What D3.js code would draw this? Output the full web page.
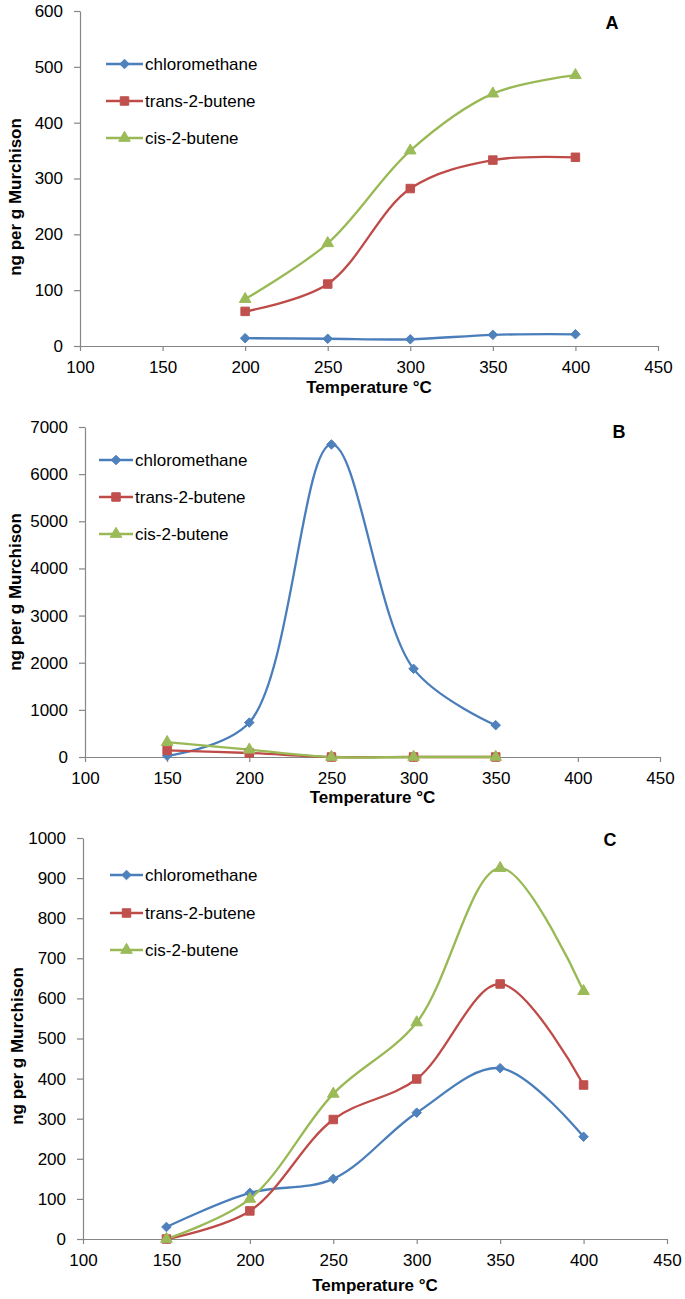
<!DOCTYPE html>
<html>
<head>
<meta charset="utf-8">
<script src="https://cdn.jsdelivr.net/npm/d3@7/dist/d3.min.js"></script>
<style>
  html, body { margin: 0; padding: 0; background: #fff; }
  svg { display: block; }
  text { font-family: "Liberation Sans", Arial, sans-serif; fill: #000; }
</style>
</head>
<body>
<svg id="chart" width="685" height="1299"></svg>
<script>
// ---------------- DATA ----------------
const seriesNames = ["chloromethane", "trans-2-butene", "cis-2-butene"];
const xTickValues = [100, 150, 200, 250, 300, 350, 400, 450];

// Panel A
const tempsA = [200, 250, 300, 350, 400];
const chloroA = [14, 13, 12, 20, 21];
const transA  = [62, 111, 282, 333, 338];
const cisA    = [84, 184, 350, 452, 485];
const yTicksA = [0, 100, 200, 300, 400, 500, 600];

// Panel B
const tempsB = [150, 200, 250, 300, 350];
const chloroB = [25, 730, 6630, 1870, 675];
const transB  = [140, 85, 0, 0, 0];
const cisB    = [315, 155, 0, 0, 0];
const yTicksB = [0, 1000, 2000, 3000, 4000, 5000, 6000, 7000];

// Panel C
const tempsC = [150, 200, 250, 300, 350, 400];
const chloroC = [30, 115, 150, 315, 426, 255];
const transC  = [0, 70, 298, 399, 636, 384];
const cisC    = [0, 100, 362, 540, 925, 618];
const yTicksC = [0, 100, 200, 300, 400, 500, 600, 700, 800, 900, 1000];

const panelLabels = ["A", "B", "C"];
const xTitle = "Temperature °C";
const yTitle = "ng per g Murchison";

// ---------------- STYLE ----------------
const lineColors   = ["#4A7EBB", "#BE4B48", "#98B954"];
const markerColors = ["#4F81BD", "#C0504D", "#9BBB59"];
const markerTypes  = [d3.symbolDiamond2, d3.symbolSquare, d3.symbolTriangle];
const markerSizes  = [58, 72, 58];
const axisColor = "#868686";

const panels = [
  { temps: tempsA, series: [chloroA, transA, cisA], yTicks: yTicksA, yMax: 600,
    x0: 80, x1: 658, yTop: 11, yBot: 346,
    legX0: 106, legX1: 143, legText: 145, legY: [64, 101, 138],
    label: panelLabels[0], labelX: 612, labelY: 23,
    yTitleX: 21, yTitleY: 197, xTitleDy: 47 },
  { temps: tempsB, series: [chloroB, transB, cisB], yTicks: yTicksB, yMax: 7000,
    x0: 85, x1: 660, yTop: 427, yBot: 757,
    legX0: 99, legX1: 133, legText: 135, legY: [460, 497, 534],
    label: panelLabels[1], labelX: 619, labelY: 432,
    yTitleX: 21, yTitleY: 592, xTitleDy: 46 },
  { temps: tempsC, series: [chloroC, transC, cisC], yTicks: yTicksC, yMax: 1000,
    x0: 83, x1: 667, yTop: 838, yBot: 1239,
    legX0: 110, legX1: 143, legText: 145, legY: [875, 913, 950],
    label: panelLabels[2], labelX: 610, labelY: 840,
    yTitleX: 23, yTitleY: 1046, xTitleDy: 52 }
];

const svg = d3.select("#chart");

panels.forEach(p => {
  const x = d3.scaleLinear().domain([100, 450]).range([p.x0, p.x1]);
  const y = d3.scaleLinear().domain([0, p.yMax]).range([p.yBot, p.yTop]);
  const g = svg.append("g");

  // X axis
  const gx = g.append("g")
    .attr("transform", `translate(0,${p.yBot})`)
    .call(d3.axisBottom(x).tickValues(xTickValues).tickFormat(d3.format("d"))
      .tickSize(5).tickPadding(10).tickSizeOuter(0));
  // Y axis
  const gy = g.append("g")
    .attr("transform", `translate(${p.x0},0)`)
    .call(d3.axisLeft(y).tickValues(p.yTicks).tickFormat(d3.format("d"))
      .tickSize(6).tickPadding(11).tickSizeOuter(0));
  [gx, gy].forEach(a => {
    a.select(".domain").attr("stroke", axisColor).attr("stroke-width", 1.2);
    a.selectAll(".tick line").attr("stroke", axisColor).attr("stroke-width", 1.2);
    a.selectAll(".tick text").attr("fill", "#000")
      .style("font-family", '"Liberation Sans", Arial, sans-serif')
      .style("font-size", "17px");
  });

  // Lines (smoothed)
  const line = d3.line()
    .x((d, i) => x(p.temps[i]))
    .y(d => y(d))
    .curve(d3.curveCatmullRom.alpha(0.5));
  p.series.forEach((vals, si) => {
    g.append("path")
      .datum(vals)
      .attr("d", line)
      .attr("fill", "none")
      .attr("stroke", lineColors[si])
      .attr("stroke-width", 2.3)
      .attr("stroke-linejoin", "round");
  });
  // Markers
  p.series.forEach((vals, si) => {
    const sym = d3.symbol().type(markerTypes[si]).size(markerSizes[si]);
    g.selectAll(null)
      .data(vals)
      .enter()
      .append("path")
      .attr("d", sym)
      .attr("transform", (d, i) => `translate(${x(p.temps[i])},${y(d)})`)
      .attr("fill", markerColors[si])
      .attr("stroke", markerColors[si])
      .attr("stroke-width", 1);
  });

  // Legend
  seriesNames.forEach((name, si) => {
    const ly = p.legY[si];
    g.append("line")
      .attr("x1", p.legX0).attr("x2", p.legX1)
      .attr("y1", ly).attr("y2", ly)
      .attr("stroke", lineColors[si]).attr("stroke-width", 2.3);
    g.append("path")
      .attr("d", d3.symbol().type(markerTypes[si]).size(markerSizes[si]))
      .attr("transform", `translate(${(p.legX0 + p.legX1) / 2},${ly})`)
      .attr("fill", markerColors[si]).attr("stroke", markerColors[si]);
    g.append("text")
      .attr("x", p.legText).attr("y", ly)
      .attr("dy", "0.35em")
      .style("font-size", "17px")
      .text(name);
  });

  // Panel label
  g.append("text")
    .attr("x", p.labelX).attr("y", p.labelY)
    .attr("dy", "0.36em")
    .attr("text-anchor", "middle")
    .style("font-size", "18px").style("font-weight", "bold")
    .text(p.label);

  // X title
  g.append("text")
    .attr("x", (p.x0 + p.x1) / 2).attr("y", p.yBot + p.xTitleDy)
    .attr("text-anchor", "middle")
    .style("font-size", "17px").style("font-weight", "bold")
    .text(xTitle);

  // Y title
  g.append("text")
    .attr("transform", `translate(${p.yTitleX},${p.yTitleY}) rotate(-90)`)
    .attr("text-anchor", "middle")
    .style("font-size", "17px").style("font-weight", "bold")
    .text(yTitle);
});
</script>
</body>
</html>
